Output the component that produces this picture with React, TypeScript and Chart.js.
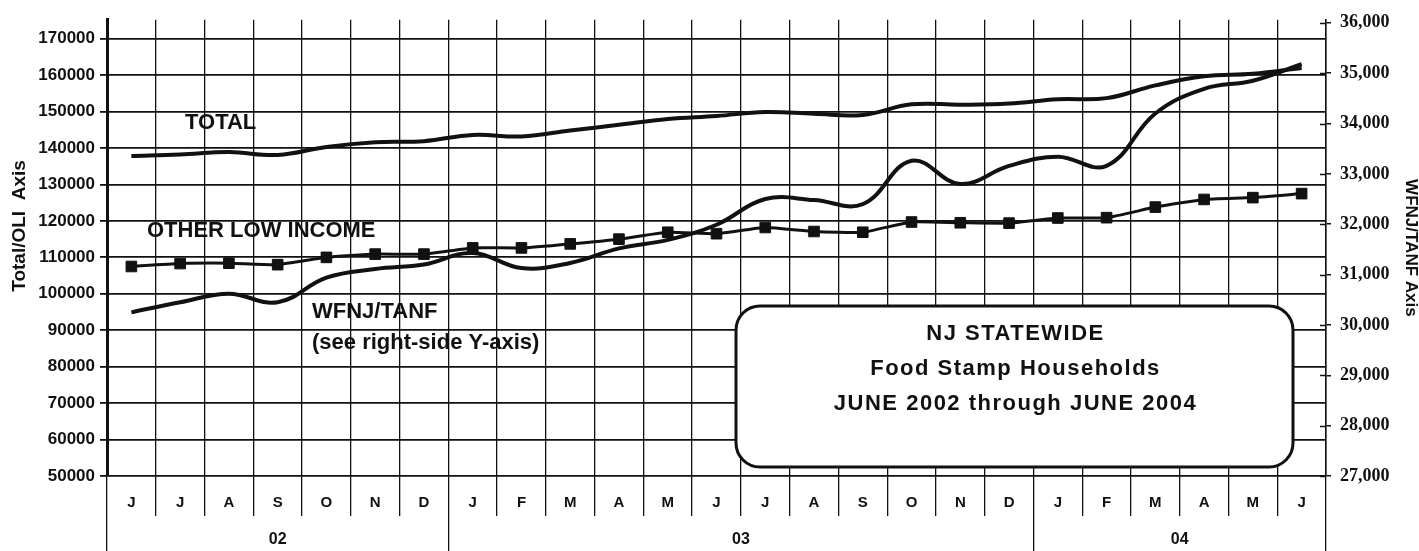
import React, { useEffect, useRef } from 'react';
import { Chart, registerables } from 'chart.js';
Chart.register(...registerables);

const months = ['J', 'J', 'A', 'S', 'O', 'N', 'D', 'J', 'F', 'M', 'A', 'M', 'J', 'J', 'A', 'S', 'O', 'N', 'D', 'J', 'F', 'M', 'A', 'M', 'J'];
const totalValues = [137800, 138200, 138900, 138100, 140300, 141600, 141900, 143600, 143200, 144800, 146400, 148000, 148800, 149900, 149400, 149100, 152000, 151900, 152200, 153400, 153700, 157200, 159700, 160400, 162000];
const oliValues = [107500, 108300, 108400, 108000, 110000, 110900, 110900, 112600, 112600, 113700, 115000, 116900, 116500, 118200, 117100, 116900, 119700, 119500, 119400, 120800, 120900, 123800, 125900, 126400, 127500];
const wfnjValues = [30250, 30450, 30620, 30450, 30940, 31110, 31200, 31430, 31130, 31230, 31520, 31690, 31990, 32500, 32480, 32400, 33260, 32800, 33160, 33340, 33160, 34200, 34690, 34850, 35180];
const leftTickValues = [50000, 60000, 70000, 80000, 90000, 100000, 110000, 120000, 130000, 140000, 150000, 160000, 170000];
const rightTickValues = [27000, 28000, 29000, 30000, 31000, 32000, 33000, 34000, 35000, 36000];
const yearLabels = ['02', '03', '04'];
const yearLabelPositions = [3.5, 13, 22];
const yearBoundaries = [0, 7, 19, 25];
const seriesLabels = ['TOTAL', 'OTHER LOW INCOME', 'WFNJ/TANF', '(see right-side Y-axis)'];
const boxLines = ['NJ STATEWIDE', 'Food Stamp Households', 'JUNE 2002 through JUNE 2004'];
const leftTitle = 'Total/OLI  Axis';
const rightTitle = 'WFNJ/TANF Axis';

const SANS = '"Liberation Sans", Arial, Helvetica, sans-serif';
const SERIF = '"Liberation Serif", "Times New Roman", serif';
const INK = '#111';

const overlayPlugin = {
  id: 'overlay',
  afterDraw(chart: any) {
    const ctx = chart.ctx as CanvasRenderingContext2D;
    ctx.save();
    // inner half of right-axis tick marks
    const y2 = chart.scales.y2;
    ctx.strokeStyle = INK;
    ctx.lineWidth = 1.5;
    y2.ticks.forEach((t: any) => {
      const py = Math.round(y2.getPixelForValue(t.value)) + 0.5;
      ctx.beginPath();
      ctx.moveTo(y2.left - 6, py);
      ctx.lineTo(y2.left, py);
      ctx.stroke();
    });

    // left axis title
    ctx.fillStyle = INK;
    ctx.save();
    ctx.translate(20, 226);
    ctx.rotate(-Math.PI / 2);
    ctx.font = `bold 19px ${SANS}`;
    ctx.textAlign = 'center';
    ctx.textBaseline = 'middle';
    ctx.fillText(leftTitle, 0, 0);
    ctx.restore();

    // series labels
    ctx.font = `bold 22px ${SANS}`;
    ctx.textAlign = 'left';
    ctx.textBaseline = 'middle';
    const labelPos = [[185, 123], [147, 231], [312, 312], [312, 343]];
    seriesLabels.forEach((s, i) => ctx.fillText(s, labelPos[i][0], labelPos[i][1]));

    // info box
    const bx = 736, by = 306, bw = 557, bh = 161, r = 24;
    ctx.beginPath();
    ctx.moveTo(bx + r, by);
    ctx.lineTo(bx + bw - r, by);
    ctx.arcTo(bx + bw, by, bx + bw, by + r, r);
    ctx.lineTo(bx + bw, by + bh - r);
    ctx.arcTo(bx + bw, by + bh, bx + bw - r, by + bh, r);
    ctx.lineTo(bx + r, by + bh);
    ctx.arcTo(bx, by + bh, bx, by + bh - r, r);
    ctx.lineTo(bx, by + r);
    ctx.arcTo(bx, by, bx + r, by, r);
    ctx.closePath();
    ctx.fillStyle = '#fff';
    ctx.fill();
    ctx.lineWidth = 3;
    ctx.strokeStyle = INK;
    ctx.stroke();

    ctx.fillStyle = INK;
    ctx.font = `bold 22px ${SANS}`;
    (ctx as any).letterSpacing = '1.5px';
    ctx.textAlign = 'center';
    const cx = bx + bw / 2 + 1;
    const lineYs = [334, 369, 404];
    boxLines.forEach((s, i) => ctx.fillText(s, cx, lineYs[i]));
    (ctx as any).letterSpacing = '0px';
    ctx.restore();
  },
};

export default function App() {
  const canvasRef = useRef<HTMLCanvasElement | null>(null);

  useEffect(() => {
    document.body.style.margin = '0';
    const canvas = canvasRef.current;
    if (!canvas) return;
    const chart = new Chart(canvas, {
      type: 'line',
      data: {
        labels: months,
        datasets: [
          {
            label: 'TOTAL',
            data: totalValues,
            yAxisID: 'y',
            borderColor: INK,
            borderWidth: 4,
            tension: 0.4,
            pointRadius: 0,
            fill: false,
          },
          {
            label: 'OTHER LOW INCOME',
            data: oliValues,
            yAxisID: 'y',
            borderColor: INK,
            borderWidth: 3,
            tension: 0.15,
            pointStyle: 'rect',
            pointRadius: 7.5,
            pointBackgroundColor: INK,
            pointBorderColor: INK,
            pointBorderWidth: 1,
            fill: false,
          },
          {
            label: 'WFNJ/TANF',
            data: wfnjValues,
            yAxisID: 'y2',
            borderColor: INK,
            borderWidth: 4,
            tension: 0.4,
            pointRadius: 0,
            fill: false,
          },
        ],
      },
      options: {
        animation: false,
        responsive: false,
        devicePixelRatio: 1,
        layout: { padding: { top: 15, left: 0, right: 0, bottom: 0 } },
        plugins: { legend: { display: false }, tooltip: { enabled: false }, title: { display: false } },
        scales: {
          x: {
            type: 'category',
            position: 'bottom',
            weight: 0,
            offset: true,
            grid: { offset: true, color: INK, lineWidth: 1.3, tickLength: 40, drawOnChartArea: true },
            border: { display: false },
            ticks: {
              autoSkip: false,
              maxRotation: 0,
              padding: -22,
              color: INK,
              font: { family: SANS, size: 15, weight: 'bold' },
            },
            afterFit: (s: any) => { s.height = 40; },
          },
          x2: {
            type: 'linear',
            position: 'bottom',
            weight: 1,
            min: 0,
            max: 25,
            afterBuildTicks: (s: any) => {
              s.ticks = [...yearBoundaries, ...yearLabelPositions].sort((a, b) => a - b).map((v) => ({ value: v }));
            },
            grid: {
              drawOnChartArea: false,
              tickLength: 35,
              lineWidth: 1.3,
              color: (c: any) => (c.tick && yearBoundaries.includes(c.tick.value) ? INK : 'rgba(0,0,0,0)'),
            },
            border: { display: false },
            ticks: {
              autoSkip: false,
              maxRotation: 0,
              padding: -21,
              color: INK,
              font: { family: SANS, size: 16, weight: 'bold' },
              callback: (v: any) => {
                const i = yearLabelPositions.indexOf(Number(v));
                return i >= 0 ? yearLabels[i] : '';
              },
            },
            afterFit: (s: any) => { s.height = 35; },
          },
          y: {
            position: 'left',
            min: 50000,
            max: 175200,
            afterBuildTicks: (s: any) => { s.ticks = leftTickValues.map((v) => ({ value: v })); },
            ticks: {
              autoSkip: false,
              padding: 5,
              color: INK,
              font: { family: SANS, size: 17, weight: 'bold' },
              callback: (v: any) => String(v),
            },
            grid: { color: INK, lineWidth: 1.8, tickLength: 7 },
            border: { width: 3, color: INK },
            afterFit: (s: any) => { s.width = 107; },
          },
          y2: {
            position: 'right',
            min: 27000,
            max: 36060,
            afterBuildTicks: (s: any) => { s.ticks = rightTickValues.map((v) => ({ value: v })); },
            ticks: {
              autoSkip: false,
              padding: 9,
              color: INK,
              font: { family: SERIF, size: 18, weight: 'bold' },
              callback: (v: any) => Number(v).toLocaleString('en-US'),
            },
            grid: { drawOnChartArea: false, tickLength: 5, color: INK, lineWidth: 1.5 },
            border: { width: 1.5, color: INK },
            title: {
              display: true,
              text: rightTitle,
              color: INK,
              font: { family: SANS, size: 17, weight: 'bold', lineHeight: 1 },
              padding: 0,
            },
            afterFit: (s: any) => { s.width = 93; },
          },
        },
      } as any,
      plugins: [overlayPlugin],
    });
    return () => chart.destroy();
  }, []);

  return (
    <div style={{ width: 1419, height: 551, background: '#fff' }}>
      <canvas ref={canvasRef} width={1419} height={551} style={{ display: 'block' }} />
    </div>
  );
}
